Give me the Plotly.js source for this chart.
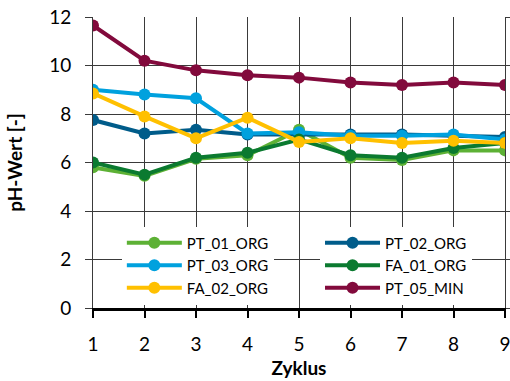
<!DOCTYPE html>
<html>
<head>
<meta charset="utf-8">
<script src="https://cdn.plot.ly/plotly-3.0.1.min.js"></script>
<style>html,body{margin:0;padding:0;background:#fff;}#chart{width:510px;height:381px;}</style>
</head>
<body>
<div id="chart"></div>
<script>
const zyklus = [1, 2, 3, 4, 5, 6, 7, 8, 9];
const seriesNames = ["PT_01_ORG", "PT_02_ORG", "PT_03_ORG", "FA_01_ORG", "FA_02_ORG", "PT_05_MIN"];
const pt01org = [5.8, 5.45, 6.15, 6.3, 7.35, 6.2, 6.1, 6.5, 6.5];
const pt02org = [7.75, 7.2, 7.35, 7.15, 7.15, 7.15, 7.15, 7.1, 7.05];
const pt03org = [9.0, 8.8, 8.65, 7.2, 7.25, 7.1, 7.1, 7.15, 6.95];
const fa01org = [6.0, 5.5, 6.2, 6.4, 6.95, 6.3, 6.2, 6.6, 6.8];
const fa02org = [8.85, 7.9, 7.0, 7.85, 6.85, 7.0, 6.8, 6.9, 6.8];
const pt05min = [11.65, 10.2, 9.8, 9.6, 9.5, 9.3, 9.2, 9.3, 9.2];
const yTicks = [0, 2, 4, 6, 8, 10, 12];

const values = [pt01org, pt02org, pt03org, fa01org, fa02org, pt05min];
const colors = ["#5DB135", "#005C8A", "#00A1DE", "#0B7A30", "#FFC000", "#820A3C"];
const legendColumn = ["legend", "legend2", "legend", "legend2", "legend", "legend2"];

const font = "Lato, 'Open Sans', sans-serif";

const traces = values.map((v, i) => ({
  x: zyklus, y: v, name: seriesNames[i], type: "scatter", mode: "lines+markers",
  legend: legendColumn[i],
  line: {color: colors[i], width: 4},
  marker: {color: colors[i], size: 12, symbol: "circle"}
}));

const legendBase = {
  orientation: "v", xanchor: "left", yanchor: "top",
  bgcolor: "#fff", borderwidth: 0,
  itemwidth: 55,
  font: {family: font, size: 15, color: "#000"},
  traceorder: "normal", tracegroupgap: 0
};

const layout = {
  width: 510, height: 381,
  margin: {l: 93, r: 5, t: 17, b: 73},
  paper_bgcolor: "#fff", plot_bgcolor: "#fff",
  font: {family: font, color: "#000", size: 19},
  showlegend: true,
  legend: Object.assign({}, legendBase, {x: 0.07, y: 0.28}),
  legend2: Object.assign({}, legendBase, {x: 0.551, y: 0.28}),
  xaxis: {
    range: [1, 9], tickvals: zyklus, ticktext: zyklus.map(String),
    showgrid: true, gridcolor: "#3a3a3a", gridwidth: 1,
    showline: true, linecolor: "#000", linewidth: 3,
    ticks: "outside", ticklen: 7, tickcolor: "#000", tickwidth: 2,
    ticklabelstandoff: 10, ticklabeloverflow: "allow",
    zeroline: false,
    tickfont: {family: font, size: 19},
    title: {text: "<b>Zyklus</b>", font: {family: font, size: 19}, standoff: 8}
  },
  yaxis: {
    range: [0, 12], tickvals: yTicks, ticktext: yTicks.map(String),
    showgrid: true, gridcolor: "#3a3a3a", gridwidth: 1,
    showline: true, linecolor: "#3a3a3a", linewidth: 1, mirror: "ticks",
    ticks: "outside", ticklen: 7, tickcolor: "#3a3a3a", tickwidth: 1,
    ticklabelstandoff: 10,
    zeroline: false,
    tickfont: {family: font, size: 19},
    title: {text: "<b>pH-Wert [-]</b>", font: {family: font, size: 19}, standoff: 21}
  }
};

Plotly.newPlot("chart", traces, layout, {displayModeBar: false, staticPlot: true});
</script>
</body>
</html>
